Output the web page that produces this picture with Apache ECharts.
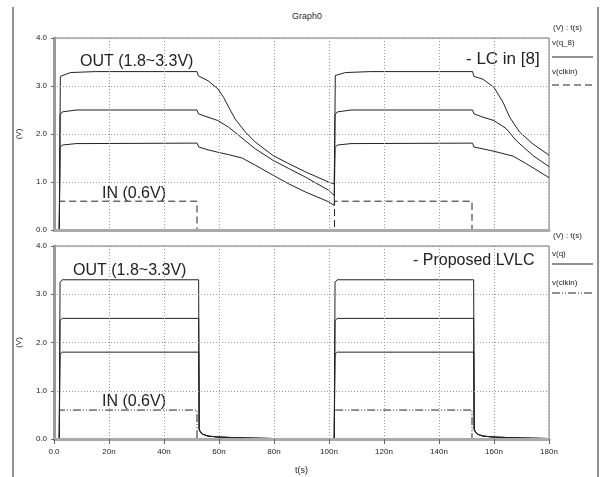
<html>
<head>
<meta charset="utf-8">
<script src="https://cdn.jsdelivr.net/npm/echarts@6/dist/echarts.min.js"></script>
<style>
  body { margin: 0; background: #fff; }
  #chart { width: 601px; height: 477px; }
</style>
</head>
<body>
<div id="chart"></div>
<script>
// time in ns, voltage in V
var xTicks = [0, 20, 40, 60, 80, 100, 120, 140, 160, 180];
var xTickLabels = ['0.0', '20n', '40n', '60n', '80n', '100n', '120n', '140n', '160n', '180n'];

// top graph: LC in [8]
var lcOut33 = [[0,0],[1.9,0],[2.1,1.0],[2.3,3.2],[3,3.24],[6,3.28],[15,3.3],[52,3.3],[52.5,3.21],[56,3.11],[59.6,2.94],[61.7,2.76],[63.5,2.56],[65.9,2.31],[69.6,2.04],[73.2,1.83],[79.7,1.55],[85.4,1.38],[91.5,1.21],[99.8,1.0],[101.9,0.96],[102.1,2.0],[102.3,3.22],[103,3.25],[106,3.28],[115,3.3],[152.2,3.3],[152.7,3.2],[156,3.14],[160,2.97],[163.3,2.66],[165.7,2.35],[169.3,2.04],[174.2,1.79],[180,1.56]];
var lcOut25 = [[0,0],[1.9,0],[2.2,2.4],[3,2.46],[8,2.5],[52,2.5],[52.5,2.42],[56,2.35],[59.6,2.28],[63.5,2.14],[67.2,1.97],[73.2,1.69],[79.7,1.45],[85.4,1.28],[91.5,1.1],[99.8,0.83],[101.9,0.72],[102.2,2.4],[103,2.46],[108,2.5],[152.2,2.5],[152.7,2.42],[156,2.35],[160,2.28],[164.5,2.11],[168.1,1.86],[174.2,1.55],[180,1.32]];
var lcOut18 = [[0,0],[1.9,0],[2.2,1.72],[3,1.77],[8,1.8],[52,1.81],[52.6,1.73],[56,1.67],[59.6,1.62],[63.5,1.57],[68.4,1.5],[73.2,1.35],[79.7,1.14],[85.4,0.96],[91.5,0.79],[99.8,0.59],[101.9,0.51],[102.2,1.72],[103,1.77],[108,1.8],[152.2,1.81],[152.7,1.73],[160,1.64],[166.9,1.54],[171.8,1.38],[180,1.09]];
var lcClk = [[0,0],[2,0],[2,0.6],[52,0.6],[52,0],[102,0],[102,0.6],[152,0.6],[152,0],[180,0]];

// bottom graph: proposed LVLC
var pOut33 = [[0,0],[1.9,0],[2.2,3.25],[3,3.3],[52.6,3.3],[52.8,0.2],[53.2,0.15],[54,0.1],[56,0.06],[60,0.04],[70,0.02],[80,0.01],[101.9,0.01],[102.2,3.25],[103,3.3],[152.6,3.3],[152.8,0.2],[153.2,0.15],[154,0.1],[156,0.06],[160,0.04],[170,0.02],[180,0.01]];
var pOut25 = [[0,0],[1.9,0],[2.2,2.45],[3,2.5],[52.6,2.5],[52.8,0.2],[53.2,0.15],[54,0.1],[56,0.06],[60,0.04],[70,0.02],[80,0.01],[101.9,0.01],[102.2,2.45],[103,2.5],[152.6,2.5],[152.8,0.2],[153.2,0.15],[154,0.1],[156,0.06],[160,0.04],[170,0.02],[180,0.01]];
var pOut18 = [[0,0],[1.9,0],[2.2,1.76],[3,1.8],[52.6,1.8],[52.8,0.2],[53.2,0.15],[54,0.1],[56,0.06],[60,0.04],[70,0.02],[80,0.01],[101.9,0.01],[102.2,1.76],[103,1.8],[152.6,1.8],[152.8,0.2],[153.2,0.15],[154,0.1],[156,0.06],[160,0.04],[170,0.02],[180,0.01]];
var pClk = [[0,0],[2,0],[2,0.6],[52,0.6],[52,0],[102,0],[102,0.6],[152,0.6],[152,0],[180,0]];

var font = 'Liberation Sans, Arial, sans-serif';
var ink = '#222';

function xAx(idx, showLabels) {
    return {
        type: 'value', gridIndex: idx, min: 0, max: 180, interval: 20, z: 10,
        name: showLabels ? 't(s)' : '', nameLocation: 'middle', nameGap: 27,
        nameTextStyle: { fontFamily: font, fontSize: 9, color: ink },
        axisLine: { show: true, onZero: false, lineStyle: { color: '#aaa', width: 3 } },
        axisTick: { show: showLabels, length: 5, lineStyle: { color: '#666' } },
        axisLabel: {
            show: showLabels, margin: 9, fontFamily: font, fontSize: 8, color: ink,
            formatter: function (v) { return xTickLabels[xTicks.indexOf(v)]; }
        },
        splitLine: { show: true, lineStyle: { color: '#999', width: 1, type: [1, 2] } }
    };
}
function yAx(idx) {
    return {
        type: 'value', gridIndex: idx, min: 0, max: 4, interval: 1, z: 10,
        name: '(V)', nameLocation: 'middle', nameGap: 31, nameRotate: 90,
        nameTextStyle: { fontFamily: font, fontSize: 8, color: ink },
        axisLine: { show: true, lineStyle: { color: '#999', width: 3 } },
        axisTick: { show: true, length: 3, lineStyle: { color: '#666' } },
        axisLabel: { margin: 7, fontFamily: font, fontSize: 8, color: ink,
            formatter: function (v) { return v.toFixed(1); } },
        splitLine: { show: true, lineStyle: { color: '#999', width: 1, type: [1, 2] } }
    };
}
function line(data, idx, type) {
    return {
        type: 'line', xAxisIndex: idx, yAxisIndex: idx, data: data, z: 0,
        showSymbol: false, symbol: 'none', animation: false, silent: true,
        lineStyle: { color: ink, width: 1, type: type || 'solid' }
    };
}
function txt(x, y, s, size, align) {
    return { type: 'text', left: x, top: y, silent: true,
        style: { text: s, fontFamily: font, fontSize: size, fill: ink, textAlign: align || 'left' } };
}
function seg(x1, y1, x2, y2, dash) {
    return { type: 'line', silent: true, shape: { x1: x1, y1: y1, x2: x2, y2: y2 },
        style: { stroke: ink, lineWidth: 1, lineDash: dash || null } };
}

var chart = echarts.init(document.getElementById('chart'));
var dashTop = [7, 4];
var dashDot = [8, 2, 1, 2, 1, 2];
chart.setOption({
    animation: false,
    backgroundColor: '#fff',
    grid: [
        { left: 54, right: 52, top: 38, height: 192, show: true, borderColor: '#777', borderWidth: 1 },
        { left: 54, right: 52, top: 246, height: 193, show: true, borderColor: '#777', borderWidth: 1 }
    ],
    xAxis: [xAx(0, false), xAx(1, true)],
    yAxis: [yAx(0), yAx(1)],
    series: [
        line(lcOut33, 0), line(lcOut25, 0), line(lcOut18, 0), line(lcClk, 0, dashTop),
        line(pOut33, 1), line(pOut25, 1), line(pOut18, 1), line(pClk, 1, dashDot)
    ],
    graphic: [
        seg(13, 7, 13, 477), seg(598, 7, 598, 477),
        txt(292, 12, 'Graph0', 9),
        txt(80, 54, 'OUT (1.8~3.3V)', 16),
        txt(102, 186, 'IN (0.6V)', 16),
        txt(466, 51, '- LC in [8]', 17),
        txt(73, 263, 'OUT (1.8~3.3V)', 16),
        txt(102, 394, 'IN (0.6V)', 16),
        txt(413, 253, '- Proposed LVLC', 16),
        txt(553, 24, '(V) : t(s)', 8),
        txt(552, 39, 'v(q_8)', 8),
        seg(552, 57, 593, 57),
        txt(552, 68, 'v(clkin)', 8),
        seg(552, 85, 593, 85, dashTop),
        txt(553, 232, '(V) : t(s)', 8),
        txt(552, 250, 'v(q)', 8),
        seg(552, 264, 593, 264),
        txt(552, 279, 'v(clkin)', 8),
        seg(552, 293, 593, 293, dashDot)
    ]
});
</script>
</body>
</html>
